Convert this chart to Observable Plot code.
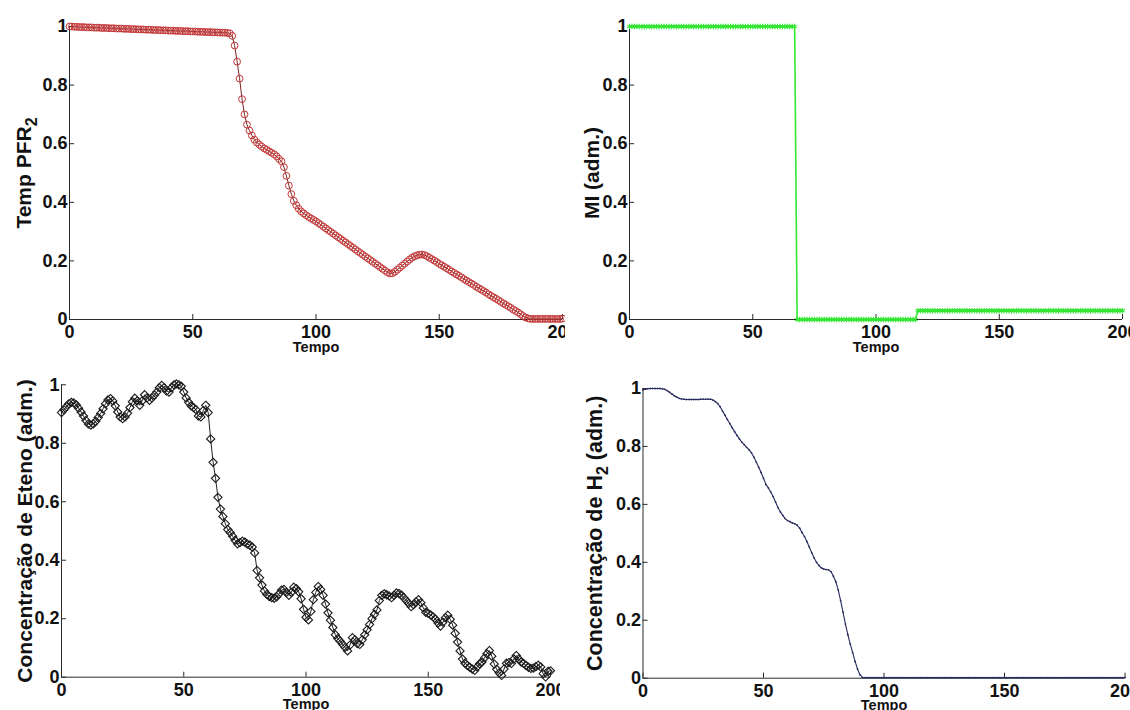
<!DOCTYPE html>
<html><head><meta charset="utf-8">
<script src="https://cdn.jsdelivr.net/npm/d3@7"></script>
<script src="https://cdn.jsdelivr.net/npm/@observablehq/plot@0.6"></script>
<style>
body{margin:0;background:#fff;}
#fig{position:relative;width:1130px;height:710px;background:#fff;overflow:hidden;}
.panel{position:absolute;overflow:hidden;}
.panel svg{display:block;}
</style></head><body><div id="fig"></div>
<script>
// ---- data ----
const tempo = d3.range(0, 201); // sample times 0..200, step 1
const xTicks = [0, 50, 100, 150, 200];
const xTickLabels = ["0", "50", "100", "150", "200"];
const yTicks = [0, 0.2, 0.4, 0.6, 0.8, 1];
const yTickLabels = ["0", "0.2", "0.4", "0.6", "0.8", "1"];
const xLabel = "Tempo";
const yLabels = ["Temp PFR_2", "MI (adm.)", "Concentração de Eteno (adm.)", "Concentração de H_2 (adm.)"];

const tempPFR2 = [
1.000,1.000,0.999,0.999,0.998,0.998,0.998,0.997,0.997,0.997,
0.996,0.996,0.996,0.995,0.995,0.995,0.994,0.994,0.994,0.993,
0.993,0.993,0.992,0.992,0.992,0.991,0.991,0.991,0.990,0.990,
0.990,0.989,0.989,0.989,0.988,0.988,0.988,0.987,0.987,0.987,
0.986,0.986,0.986,0.985,0.985,0.985,0.984,0.984,0.984,0.983,
0.983,0.983,0.982,0.982,0.982,0.981,0.981,0.981,0.980,0.980,
0.980,0.979,0.979,0.979,0.978,0.977,0.968,0.935,0.880,0.822,
0.752,0.700,0.665,0.645,0.628,0.614,0.604,0.597,0.590,0.584,
0.579,0.574,0.569,0.564,0.557,0.548,0.540,0.520,0.490,0.457,
0.428,0.405,0.390,0.378,0.369,0.362,0.356,0.350,0.345,0.340,
0.335,0.329,0.323,0.317,0.311,0.305,0.299,0.293,0.287,0.281,
0.275,0.269,0.263,0.257,0.251,0.245,0.239,0.233,0.227,0.221,
0.215,0.209,0.203,0.197,0.191,0.185,0.179,0.173,0.167,0.161,
0.157,0.158,0.163,0.170,0.177,0.184,0.191,0.198,0.205,0.211,
0.216,0.219,0.221,0.222,0.220,0.216,0.211,0.206,0.201,0.196,
0.190,0.185,0.180,0.175,0.170,0.164,0.159,0.154,0.149,0.144,
0.138,0.133,0.128,0.123,0.118,0.112,0.107,0.102,0.097,0.092,
0.086,0.081,0.076,0.071,0.066,0.060,0.055,0.050,0.045,0.040,
0.034,0.029,0.024,0.018,0.012,0.007,0.004,0.002,0.002,0.002,
0.002,0.002,0.002,0.002,0.002,0.002,0.002,0.002,0.002,0.002,
0.003];

const mi = [
1,1,1,1,1,1,1,1,1,1,
1,1,1,1,1,1,1,1,1,1,
1,1,1,1,1,1,1,1,1,1,
1,1,1,1,1,1,1,1,1,1,
1,1,1,1,1,1,1,1,1,1,
1,1,1,1,1,1,1,1,1,1,
1,1,1,1,1,1,1,1,0,0,
0,0,0,0,0,0,0,0,0,0,
0,0,0,0,0,0,0,0,0,0,
0,0,0,0,0,0,0,0,0,0,
0,0,0,0,0,0,0,0,0,0,
0,0,0,0,0,0,0,0.03,0.03,0.03,
0.03,0.03,0.03,0.03,0.03,0.03,0.03,0.03,0.03,0.03,
0.03,0.03,0.03,0.03,0.03,0.03,0.03,0.03,0.03,0.03,
0.03,0.03,0.03,0.03,0.03,0.03,0.03,0.03,0.03,0.03,
0.03,0.03,0.03,0.03,0.03,0.03,0.03,0.03,0.03,0.03,
0.03,0.03,0.03,0.03,0.03,0.03,0.03,0.03,0.03,0.03,
0.03,0.03,0.03,0.03,0.03,0.03,0.03,0.03,0.03,0.03,
0.03,0.03,0.03,0.03,0.03,0.03,0.03,0.03,0.03,0.03,
0.03,0.03,0.03,0.03,0.03,0.03,0.03,0.03,0.03,0.03,
0.03];

const eteno = [
0.905,0.915,0.925,0.935,0.940,0.938,0.932,0.920,0.907,0.893,
0.878,0.866,0.862,0.866,0.875,0.888,0.902,0.918,0.935,0.948,
0.953,0.945,0.928,0.907,0.890,0.884,0.890,0.903,0.922,0.942,
0.954,0.945,0.930,0.945,0.966,0.955,0.947,0.955,0.965,0.975,
0.990,0.998,0.990,0.978,0.975,0.990,1.000,1.003,1.000,0.995,
0.975,0.955,0.940,0.928,0.922,0.915,0.893,0.890,0.912,0.930,
0.905,0.815,0.735,0.680,0.615,0.575,0.550,0.525,0.505,0.495,
0.482,0.468,0.456,0.460,0.465,0.462,0.455,0.452,0.445,0.425,
0.365,0.340,0.315,0.295,0.283,0.276,0.272,0.270,0.275,0.285,
0.298,0.300,0.290,0.280,0.290,0.308,0.303,0.292,0.268,0.232,
0.205,0.196,0.225,0.265,0.290,0.310,0.300,0.280,0.250,0.220,
0.195,0.170,0.145,0.132,0.123,0.112,0.102,0.090,0.110,0.135,
0.128,0.115,0.112,0.128,0.145,0.162,0.180,0.200,0.215,0.230,
0.262,0.280,0.285,0.282,0.278,0.272,0.280,0.288,0.286,0.281,
0.272,0.262,0.252,0.241,0.248,0.258,0.265,0.255,0.237,0.222,
0.218,0.213,0.206,0.198,0.185,0.175,0.188,0.203,0.212,0.198,
0.178,0.150,0.120,0.090,0.062,0.048,0.040,0.034,0.028,0.023,
0.035,0.046,0.052,0.066,0.080,0.091,0.072,0.045,0.027,0.015,
0.006,0.028,0.048,0.050,0.047,0.062,0.074,0.062,0.052,0.047,
0.040,0.034,0.030,0.031,0.036,0.041,0.035,0.012,0.001,0.020,
0.022];

const h2 = [
0.995,0.998,0.999,1.000,1.000,1.000,1.000,1.000,0.999,0.997,
0.993,0.987,0.981,0.975,0.970,0.966,0.964,0.963,0.962,0.962,
0.962,0.962,0.962,0.962,0.963,0.963,0.963,0.963,0.963,0.960,
0.955,0.948,0.937,0.922,0.908,0.893,0.879,0.865,0.851,0.838,
0.826,0.815,0.806,0.797,0.789,0.778,0.763,0.746,0.728,0.710,
0.690,0.669,0.657,0.643,0.627,0.608,0.589,0.574,0.562,0.551,
0.544,0.540,0.536,0.533,0.528,0.518,0.503,0.489,0.472,0.453,
0.433,0.415,0.400,0.389,0.381,0.377,0.375,0.374,0.368,0.352,
0.333,0.305,0.268,0.228,0.187,0.150,0.118,0.088,0.058,0.032,
0.012,0.003,0.002,0.002,0.002,0.002,0.002,0.002,0.002,0.002,
0.002,0.002,0.002,0.002,0.002,0.002,0.002,0.002,0.002,0.002,
0.002,0.002,0.002,0.002,0.002,0.002,0.002,0.002,0.002,0.002,
0.002,0.002,0.002,0.002,0.002,0.002,0.002,0.002,0.002,0.002,
0.002,0.002,0.002,0.002,0.002,0.002,0.002,0.002,0.002,0.002,
0.002,0.002,0.002,0.002,0.002,0.002,0.002,0.002,0.002,0.002,
0.002,0.002,0.002,0.002,0.002,0.002,0.002,0.002,0.002,0.002,
0.002,0.002,0.002,0.002,0.002,0.002,0.002,0.002,0.002,0.002,
0.002,0.002,0.002,0.002,0.002,0.002,0.002,0.002,0.002,0.002,
0.002,0.002,0.002,0.002,0.002,0.002,0.002,0.002,0.002,0.002,
0.002,0.002,0.002,0.002,0.002,0.002,0.002,0.002,0.002,0.002,
0.002];

// ---- drawing ----
const FONT = "'Liberation Sans', Arial, Helvetica, sans-serif";
const AXIS = "#2a2a2a";
const table = arr => tempo.map((t, i) => ({t, v: arr[i]}));

function addSubscripts(svg) {
  const ns = "http://www.w3.org/2000/svg";
  svg.querySelectorAll("text").forEach(el => {
    const s = el.textContent;
    const k = s.indexOf("_");
    if (k < 0 || el.children.length) return;
    el.textContent = s.slice(0, k);
    const sub = document.createElementNS(ns, "tspan");
    sub.setAttribute("dy", "6");
    sub.setAttribute("font-size", "16");
    sub.textContent = s[k + 1];
    el.appendChild(sub);
    const rest = s.slice(k + 2);
    if (rest) {
      const r = document.createElementNS(ns, "tspan");
      r.setAttribute("dy", "-6");
      r.textContent = rest;
      el.appendChild(r);
    }
  });
}

function panel({left, top, width, height, mL, mR, mT, mB, ylabel, ylabelDx, ylabelSize, marks}) {
  const svg = Plot.plot({
    width, height,
    marginLeft: mL, marginRight: mR, marginTop: mT, marginBottom: mB,
    style: {fontFamily: FONT, fontWeight: "bold", color: "#111", background: "white"},
    x: {domain: [0, 200], axis: null},
    y: {domain: [0, 1], axis: null},
    marks: [
      Plot.ruleY([0], {stroke: AXIS, strokeWidth: 1}),
      Plot.ruleX([0], {stroke: AXIS, strokeWidth: 1}),
      Plot.axisX(xTicks, {tickSize: -5, tickPadding: 11, fontSize: 18, stroke: AXIS, label: null,
        tickFormat: d => xTickLabels[xTicks.indexOf(d)]}),
      Plot.axisY(yTicks, {tickSize: -5, tickPadding: 7, fontSize: 18, stroke: AXIS, label: null,
        tickFormat: d => yTickLabels[yTicks.indexOf(d)]}),
      Plot.text([xLabel], {text: d => d, frameAnchor: "bottom", dy: 22, lineAnchor: "top",
        fontSize: 14.5, fontWeight: "bold", fill: "#111"}),
      Plot.text([ylabel], {text: d => d, frameAnchor: "left", rotate: -90, dx: ylabelDx,
        lineAnchor: "bottom", textAnchor: "middle", fontSize: ylabelSize || 21, fontWeight: "bold", fill: "#111"}),
      ...marks
    ]
  });
  addSubscripts(svg);
  const div = document.createElement("div");
  div.className = "panel";
  Object.assign(div.style, {left: left + "px", top: top + "px", width: width + "px", height: height + "px"});
  div.appendChild(svg);
  document.getElementById("fig").appendChild(div);
}

const d1 = table(tempPFR2), d2 = table(mi), d3t = table(eteno), d4 = table(h2);

panel({left: 0, top: 0, width: 565, height: 358, mL: 69, mR: 3, mT: 26, mB: 39,
  ylabel: yLabels[0], ylabelDx: -39,
  marks: [
    Plot.line(d1, {x: "t", y: "v", stroke: "#7a2424", strokeWidth: 1}),
    Plot.dot(d1, {x: "t", y: "v", r: 3.4, stroke: "#c23636", strokeWidth: 1, fill: "none"})
  ]});

panel({left: 565, top: 0, width: 565, height: 358, mL: 64, mR: 8, mT: 26, mB: 39,
  ylabel: yLabels[1], ylabelDx: -31,
  marks: [
    Plot.line(d2, {x: "t", y: "v", stroke: "#33e633", strokeWidth: 1.6}),
    Plot.dot(d2, {x: "t", y: "v", symbol: "asterisk", r: 2.6, stroke: "#33e633", strokeWidth: 1.1})
  ]});

panel({left: 0, top: 358, width: 560, height: 352, mL: 61, mR: 10, mT: 26.3, mB: 33.3,
  ylabel: yLabels[2], ylabelDx: -30,
  marks: [
    Plot.line(d3t, {x: "t", y: "v", stroke: "#222", strokeWidth: 1}),
    Plot.dot(d3t, {x: "t", y: "v", symbol: "diamond2", r: 3.7, stroke: "#1a1a1a", strokeWidth: 1.1, fill: "none"})
  ]});

panel({left: 560, top: 358, width: 570, height: 352, mL: 82.5, mR: 5.5, mT: 30, mB: 32.3,
  ylabel: yLabels[3], ylabelDx: -41.5, ylabelSize: 21.5,
  marks: [
    Plot.line(d4, {x: "t", y: "v", stroke: "#272b5e", strokeWidth: 1.1}),
    Plot.dot(d4, {x: "t", y: "v", r: 0.9, fill: "#272b5e"})
  ]});
</script></body></html>
